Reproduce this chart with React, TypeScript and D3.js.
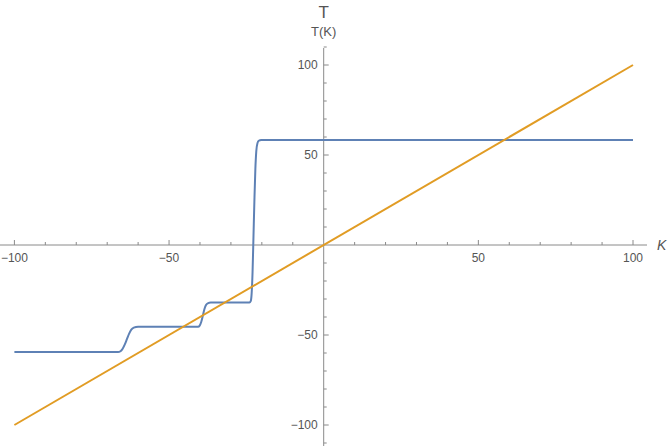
import React from "react";
import * as d3 from "d3";

const W = 668;
const H = 446;

// Blue curve T(K): points
const blueK = [-100, -66.5, -65.7, -65, -64.3, -63.6, -62.9, -62.2, -61.4, -60, -40.6, -40.1, -39.6, -39.1, -38.6, -38.1, -37.5, -36.5, -24, -23.6, -23.3, -23.0, -22.7, -22.4, -22.1, -21.8, -21.4, -21, -20.2, 100];
const blueT = [-59.5, -59.5, -59.0, -57.6, -55.2, -52.2, -49.2, -47.0, -45.9, -45.4, -45.4, -44.8, -42.8, -39.5, -35.8, -33.5, -32.4, -32.0, -32.0, -31.2, -27, -15, 5, 25, 42, 52, 56.7, 57.9, 58.4, 58.4];

// Orange line T = K
const orangeK = [-100, 100];
const orangeT = [-100, 100];

const xTicksMajor = [-100, -50, 50, 100];
const xTicksMinor = d3.range(-100, 101, 10).filter((v) => v !== 0 && v % 50 !== 0);
const yTicksMajor = [100, 50, -50, -100];
const yTicksMinor = d3.range(-110, 111, 10).filter((v) => v !== 0 && v % 50 !== 0);

const fmt = (v: number) => (v < 0 ? "\u2212" + Math.abs(v) : String(v));

export default function App() {
  const x = d3.scaleLinear().domain([-100, 100]).range([14.4, 633]);
  const y = d3.scaleLinear().domain([-100, 100]).range([425, 65]);
  const x0 = x(0);
  const y0 = y(0);

  const line = d3
    .line<[number, number]>()
    .x((d) => x(d[0]))
    .y((d) => y(d[1]))
    .curve(d3.curveMonotoneX);

  const blueData: [number, number][] = blueK.map((k, i) => [k, blueT[i]]);
  const orangeData: [number, number][] = orangeK.map((k, i) => [k, orangeT[i]]);

  const axisColor = "#8a8a8a";
  const textColor = "#555";
  const font = "'Liberation Sans', Arial, sans-serif";

  return (
    <svg
      width={W}
      height={H}
      style={{ position: "absolute", left: 0, top: 0, background: "#fff" }}
      fontFamily={font}
    >
      {/* axes */}
      <line x1={0} x2={647} y1={y0} y2={y0} stroke={axisColor} strokeWidth={1} />
      <line x1={x0} x2={x0} y1={48} y2={H} stroke={axisColor} strokeWidth={1} />

      {/* x ticks */}
      {xTicksMajor.map((v) => (
        <line key={"xM" + v} x1={x(v)} x2={x(v)} y1={y0} y2={y0 - 5} stroke={axisColor} />
      ))}
      {xTicksMinor.map((v) => (
        <line key={"xm" + v} x1={x(v)} x2={x(v)} y1={y0} y2={y0 - 3} stroke={axisColor} />
      ))}
      {xTicksMajor.map((v) => (
        <text key={"xl" + v} x={x(v)} y={y0 + 17} textAnchor="middle" fontSize={12} fill={textColor}>
          {fmt(v)}
        </text>
      ))}

      {/* y ticks */}
      {yTicksMajor.map((v) => (
        <line key={"yM" + v} x1={x0} x2={x0 + 5} y1={y(v)} y2={y(v)} stroke={axisColor} />
      ))}
      {yTicksMinor.map((v) => (
        <line key={"ym" + v} x1={x0} x2={x0 + 3} y1={y(v)} y2={y(v)} stroke={axisColor} />
      ))}
      {yTicksMajor.map((v) => (
        <text key={"yl" + v} x={x0 - 6} y={y(v) + 4} textAnchor="end" fontSize={12} fill={textColor}>
          {fmt(v)}
        </text>
      ))}

      {/* axis labels */}
      <text x={x0} y={18} textAnchor="middle" fontSize={17} fill={textColor}>
        T
      </text>
      <text x={x0} y={36} textAnchor="middle" fontSize={13} fill={textColor}>
        T(K)
      </text>
      <text x={657} y={y0 + 5} fontSize={14} fontStyle="italic" fill={textColor}>
        K
      </text>

      {/* curves */}
      <path d={line(blueData) || ""} fill="none" stroke="#5E81B5" strokeWidth={2} />
      <path d={line(orangeData) || ""} fill="none" stroke="#E19C24" strokeWidth={2} />
    </svg>
  );
}
